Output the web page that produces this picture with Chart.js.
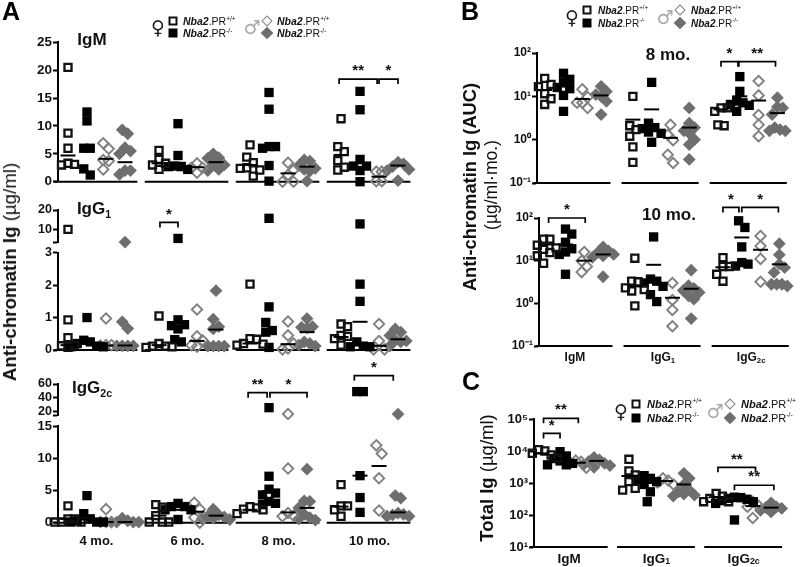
<!DOCTYPE html>
<html>
<head>
<meta charset="utf-8">
<script src="https://cdn.jsdelivr.net/npm/chart.js@4"></script>
<style>
    html, body { margin: 0; background: #fff; }
    #page { position: relative; width: 800px; height: 567px; overflow: hidden; font-family: "Liberation Sans", sans-serif; color: #111; }
    canvas { position: absolute; left: 0; top: 0; }
    .txt { position: absolute; white-space: nowrap; transform: translate(-50%, -50%); }
    .b { font-weight: bold; }
    .left { transform: translate(0, -50%); }
    sup, sub { font-size: 62%; line-height: 0; }
    .sq, .di { position: absolute; box-sizing: border-box; transform: translate(-50%, -50%); }
    .di { transform: translate(-50%, -50%) rotate(45deg); }
</style>
</head>
<body>
<div id="page"></div>
<script>
// each series: one list per group, means: group by group, series by series
const monthLabels = ['4 mo.', '6 mo.', '8 mo.', '10 mo.'];
const isotypeLabels = [['IgM', ''], ['IgG', '1'], ['IgG', '2c']];

// panel A, IgM
const igmFemaleWt = [[20.5, 8.7, 6, 3.3, 3, 3.1], [5.6, 4, 3.3, 3, 2.2], [6.6, 4.4, 3.4, 2.5, 2.4, 2.1, 1], [11.3, 6.3, 5.4, 3.8, 2.6, 2.1]];
const igmFemaleKo = [[12.5, 10.9, 6, 6, 2.3, 1.2], [10.4, 4.7, 2.8, 2.7, 2.7, 2.2], [16, 13, 6.3, 6.3, 6, 2.9, 0.1], [16.2, 12.9, 4, 2.8, 2.8, 2, 0]];
const igmMaleWt = [[6.9, 5.9, 3.9, 3.7, 2.2], [3.3, 2.5, 2.5, 1.6], [3.4, 2.1, 1.2, 0, 0], [1.8, 1.8, 0.1, 0.1]];
const igmMaleKo = [[9.3, 8.6, 6.1, 5.5, 5, 2, 2, 1.3], [5, 4.3, 4.2, 3.2, 3, 2.2, 2], [3.9, 3.7, 2.9, 2.4, 2.2, 1.9, 0.1], [3.5, 3.2, 2.7, 2.2, 2, 0.2]];
const igmMeans = [[4.7, 6, 4.1, 3.5], [3.3, 3.4, 2.6, 3.5], [3, 6.2, 1.5, 2.7], [4.8, 3.3, 0.9, 2.9]];
const igmTicks = [0, 5, 10, 15, 20, 25];

// panel A, IgG1
const igg1FemaleWt = [[10, 0.93, 0.38, 0.15, 0.08, 0.13], [1.05, 0.2, 0.12, 0.12, 0.1, 0.08], [2.03, 0.35, 0.33, 0.2, 0.18, 0.15], [0.8, 0.72, 0.45, 0.42, 0.35, 0.15]];
const igg1FemaleKo = [[1, 0.3, 0.25, 0.2, 0.12, 0.1, 0.1], [5.3, 0.93, 0.78, 0.75, 0.65, 0.32, 0.25], [15.7, 1.33, 0.85, 0.6, 0.55, 0.08], [12.8, 2.03, 1.5, 0.25, 0.12, 0.1, 0.1]];
const igg1MaleWt = [[0.97, 0.15, 0.15, 0.14], [1.25, 0.42, 0.3, 0.15, 0.1], [0.88, 0.45, 0.2, 0.05, 0.02], [0.8, 0.28, 0.02, 0.02]];
const igg1MaleKo = [[3.4, 0.87, 0.66, 0.13, 0.13, 0.13, 0.13], [1.83, 0.95, 0.72, 0.65, 0.12, 0.12, 0.12, 0.12], [0.97, 0.72, 0.7, 0.68, 0.25, 0.2, 0.15, 0.12], [0.65, 0.55, 0.45, 0.3, 0.28, 0.25, 0.12]];
const igg1Means = [[0.15, 0.2, 0.14, 0.14], [0.15, 0.7, 0.28, 0.63], [0.2, 0.55, 0.18, 0.55], [0.4, 0.87, 0.13, 0.33]];
const igg1Ticks = [0, 1, 2, 3];
const igg1TopTicks = [3.3, 10, 20];
const igg1TopLabels = ['', '10', '20'];

// panel A, IgG2c
const igg2FemaleWt = [[2.6, 0.6, 0.6, 0.1, 0.1, 0.1], [2.8, 2.4, 1.1, 0.1, 0.1, 0.1], [2.5, 2.3, 2.1, 2, 1.4], [5.9, 2.6, 2.6, 2, 1]];
const igg2FemaleKo = [[4.2, 1.4, 0.6, 0.3, 0.1, 0.1, 0.1], [3, 2.5, 2.5, 2, 2, 0.5], [25.8, 7.2, 5.2, 4.6, 4.3, 3.3, 3, 2.8], [49, 49, 7.3, 3.9, 1.6]];
const igg2MaleWt = [[2.1, 0.1, 0.1, 0.1], [3.1, 2.1, 0.8, 0], [16.6, 8.4, 1.5, 1.1, 1], [12, 10.7, 6.9, 1.9]];
const igg2MaleKo = [[0.7, 0.3, 0.1, 0.1, 0.1, 0.1], [2.1, 1.2, 1, 0.9, 0.7, 0.6, 0.5], [8.3, 3.4, 3.3, 2.3, 1.3, 0.8, 0.6, 0.4], [16.6, 4.2, 3.8, 1.5, 1.3, 1.2, 1, 1]];
const igg2Means = [[0.6, 0.5, 0.1, 0.1], [1.1, 2, 1.7, 1.1], [2, 4.9, 1.6, 2.3], [2.5, 7.3, 8.8, 1.6]];
const igg2Ticks = [0, 5, 10, 15];
const igg2TopTicks = [15.2, 20, 40, 60];
const igg2TopLabels = ['', '20', '40', '60'];

// panel B, 8 mo.
const auc8FemaleWt = [[18.9, 11.5, 16.7, 26, 8.8, 6.5], [10, 1.7, 2.1, 1.2, 0.68, 0.3], [5.4, 5.4, 4.5, 2.2, 2.1]];
const auc8FemaleKo = [[34, 16, 15, 20.6, 24.7, 10.5, 4.5], [21, 2.4, 1.9, 1.8, 1.5, 1.4, 0.87], [28.5, 13, 7.8, 7.1, 6.5, 6.2, 4.5]];
const auc8MaleWt = [[14.5, 9.6, 7.1, 7.1, 5.4], [2.2, 1.3, 0.97, 0.45, 0.29], [22.6, 10.5, 3.7, 2.2, 1.2]];
const auc8MaleKo = [[17, 13, 11, 10, 7.7, 3.8], [5.4, 2.4, 1.9, 1.6, 1.4, 1, 0.77, 0.35], [9.3, 5.7, 5.4, 3.8, 1.9, 1.7, 1.6, 1.6]];
const auc8Means = [[14, 17, 8.7, 10.5], [2.9, 5, 1.1, 1.9], [5, 10, 8, 4.1]];

// panel B, 10 mo.
const auc10FemaleWt = [[32, 32, 23, 20, 18.5, 15.5, 13, 8.7], [11.4, 3.3, 3.2, 2.3, 2.1, 1.95, 0.87], [11.8, 7.3, 7.3, 4.8, 3.3]];
const auc10FemaleKo = [[55, 42, 27, 19, 16, 14, 4.8], [36, 3.7, 3.3, 3, 2.5, 1.6, 1.1], [86, 60, 21, 9, 8.3, 7.5]];
const auc10MaleWt = [[16, 9.9, 7.3, 5.4], [3, 1.2, 0.7, 0.29], [38, 22, 11, 3.2]];
const auc10MaleKo = [[21, 17, 15.5, 14, 13, 12, 4.2], [6, 2.6, 2.25, 2, 1.8, 1.5, 1.25, 0.44], [25, 13.7, 8.3, 6.9, 5.3, 2.8, 2.8, 2.55, 2.8]];
const auc10Means = [[24, 24, 10, 14], [2.5, 8, 1.35, 2.2], [7, 35, 18, 8.2]];
const aucTicks = [0.1, 1, 10, 100];
const aucTickLabels = ['10⁻¹', '10⁰', '10¹', '10²'];

// panel C
const totalFemaleWt = [[11000, 10000, 8500, 7500, 7000, 6000], [5500, 2400, 1800, 1100, 680, 600], [470, 390, 330, 260, 260]];
const totalFemaleKo = [[9500, 7000, 5800, 4900, 4100, 3700, 3700], [1700, 1400, 1300, 1100, 900, 530, 260], [360, 350, 330, 310, 280, 260, 230, 70]];
const totalMaleWt = [[5000, 4600, 4300, 3000], [1400, 1200, 1040, 900], [260, 200, 180, 81]];
const totalMaleKo = [[6300, 5300, 4700, 4100, 3700, 3500, 3100], [2000, 1400, 900, 600, 450, 390, 420, 530], [240, 180, 170, 160, 140, 125]];
const totalMeans = [[8400, 5500, 4300, 4900], [1650, 1000, 1150, 900], [360, 270, 190, 170]];
const totalTicks = [10, 100, 1000, 10000, 100000];
const totalTickLabels = ['10¹', '10²', '10³', '10⁴', '10⁵'];

// significance brackets: group, from series, to series, value, stars
const igmBrackets = [[3, -0.1, 1.9, 18.4, '**'], [3, 2, 3, 18.4, '*']];
const igg1Brackets = [[1, 0.05, 1, 13.6, '*']];
const igg2Brackets = [[2, -0.1, 0.9, 47.5, '**'], [2, 1.05, 3, 47.5, '*'], [3, 0.7, 2.75, 72, '*']];
const auc8Brackets = [[2, 0, 0.9, 63, '*'], [2, 0.95, 2.9, 63, '**']];
const auc10Brackets = [[0, 0.1, 2.05, 100, '*'], [2, 0, 0.85, 177, '*'], [2, 1, 2.95, 177, '*']];
const totalBrackets = [[0, 0.1, 2, 105000, '**'], [0, 0.1, 1, 35500, '*'], [2, 0.1, 2.15, 3080, '**'], [2, 1, 3.15, 850, '**']];

const page = document.getElementById('page');

const seriesStyles = [
    { pointStyle: 'rect', pointRadius: 5, pointBorderWidth: 2.3, borderColor: '#111', backgroundColor: 'rgba(255,255,255,0)' },
    { pointStyle: 'rect', pointRadius: 6.6, pointBorderWidth: 0, borderColor: '#000', backgroundColor: '#000' },
    { pointStyle: 'rectRot', pointRadius: 5.2, pointBorderWidth: 1.9, borderColor: '#808080', backgroundColor: 'rgba(255,255,255,0)' },
    { pointStyle: 'rectRot', pointRadius: 6.4, pointBorderWidth: 0, borderColor: '#6e6e6e', backgroundColor: '#6e6e6e' },
];
const dodgeSteps = [6.5, 6.5, 5.5, 5.5];

// spread tied points sideways, like the prism scatter plots do
function dodge(values, toPx, stepPx) {
    const placed = [];
    [...values].sort((a, b) => b - a).forEach(v => {
        const py = toPx(v);
        let k = 0, off = 0;
        while (placed.some(p => Math.abs(p.off - off) < stepPx * 0.9 && Math.abs(p.py - py) < 8.8)) {
            k++;
            off = (k % 2 ? 1 : -1) * Math.ceil(k / 2) * stepPx;
        }
        placed.push({ v, py, off });
    });
    // centre each run of touching points on the series
    let start = 0;
    for (let i = 1; i <= placed.length; i++) {
        if (i === placed.length || placed[i].py - placed[i - 1].py >= 8.8) {
            const run = placed.slice(start, i);
            const mid = (Math.max(...run.map(p => p.off)) + Math.min(...run.map(p => p.off))) / 2;
            run.forEach(p => { p.off -= mid; });
            start = i;
        }
    }
    return placed;
}

const plotExtras = {
    id: 'plotExtras',
    beforeDatasetsDraw(chart, args, o) {
        if (!o.baseline) return;
        const ctx = chart.ctx, xs = chart.scales.x, y = chart.chartArea.bottom;
        ctx.save();
        ctx.strokeStyle = '#000';
        ctx.lineWidth = 2;
        for (let g = 0; g < o.groups; g++) {
            ctx.beginPath();
            ctx.moveTo(xs.getPixelForValue(g * o.gap + o.ext[0]), y);
            ctx.lineTo(xs.getPixelForValue(g * o.gap + o.ext[1]), y);
            ctx.stroke();
        }
        ctx.restore();
    },
    afterDraw(chart, args, o) {
        const ctx = chart.ctx, xs = chart.scales.x, ys = chart.scales.y;
        ctx.save();
        ctx.strokeStyle = '#000';
        ctx.fillStyle = '#111';
        ctx.lineWidth = 1.7;
        (o.brackets || []).forEach(([g, a, b, val, stars]) => {
            const x0 = xs.getPixelForValue(g * o.gap + a), x1 = xs.getPixelForValue(g * o.gap + b), y = ys.getPixelForValue(val);
            ctx.beginPath();
            ctx.moveTo(x0, y + 5);
            ctx.lineTo(x0, y);
            ctx.lineTo(x1, y);
            ctx.lineTo(x1, y + 5);
            ctx.stroke();
            ctx.font = 'bold 15px "Liberation Sans"';
            ctx.textAlign = 'center';
            ctx.textBaseline = 'middle';
            ctx.fillText(stars, (x0 + x1) / 2, y - 8);
        });
        (o.labels || []).forEach((lab, g) => {
            const [main, sub] = Array.isArray(lab) ? lab : [lab, ''];
            const cx = xs.getPixelForValue(g * o.gap + 1.5), y = chart.chartArea.bottom + o.labelY;
            ctx.font = `bold ${o.labelSize}px "Liberation Sans"`;
            const w = ctx.measureText(main).width;
            ctx.font = `bold ${o.labelSize * 0.65}px "Liberation Sans"`;
            const ws = sub ? ctx.measureText(sub).width : 0;
            ctx.textAlign = 'left';
            ctx.textBaseline = 'middle';
            ctx.font = `bold ${o.labelSize}px "Liberation Sans"`;
            ctx.fillText(main, cx - (w + ws) / 2, y);
            ctx.font = `bold ${o.labelSize * 0.65}px "Liberation Sans"`;
            ctx.fillText(sub, cx - (w + ws) / 2 + w, y + 3);
        });
        ctx.restore();
    },
};

function drawPlot(cfg) {
    const { box, type, yMin, yMax, ticks, tickLabels, series, means, x0, pitch, gap } = cfg;
    const canvas = document.createElement('canvas');
    canvas.width = 800;
    canvas.height = 567;
    page.appendChild(canvas);

    const log = type === 'logarithmic';
    const f = v => log ? Math.log10(v) : v;
    const toPx = v => box.b - (f(v) - f(yMin)) / (f(yMax) - f(yMin)) * (box.b - box.t);
    const inRange = v => v > (cfg.above ?? -Infinity) && v <= (cfg.upTo ?? Infinity);

    const meanPoints = [];
    means.forEach((row, g) => row.forEach((v, s) => {
        if (inRange(v)) meanPoints.push({ x: g * gap + s, y: v });
    }));
    const datasets = [{
        data: meanPoints,
        pointStyle: 'line', pointRadius: 7.5, pointBorderWidth: 2, borderColor: '#000', clip: false,
    }];
    series.forEach((groups, s) => {
        datasets.push({
            data: groups.flatMap((vals, g) => dodge(vals.filter(inRange), toPx, dodgeSteps[s]).map(p => ({ x: g * gap + s + p.off / pitch, y: p.v }))),
            clip: false,
            ...seriesStyles[s],
        });
    });

    new Chart(canvas, {
        type: 'scatter',
        data: { datasets },
        plugins: [plotExtras],
        options: {
            responsive: false,
            animation: false,
            events: [],
            layout: { padding: { left: 0, top: box.t, right: 800 - box.r, bottom: 567 - box.b } },
            plugins: {
                legend: { display: false },
                tooltip: { enabled: false },
                plotExtras: {
                    baseline: !cfg.top,
                    groups: series[0].length,
                    gap,
                    ext: cfg.ext,
                    brackets: cfg.brackets,
                    labels: cfg.labels,
                    labelY: cfg.labelY,
                    labelSize: cfg.labelSize,
                },
            },
            scales: {
                x: { type: 'linear', display: false, min: (box.l - x0) / pitch, max: (box.r - x0) / pitch },
                y: {
                    type,
                    min: yMin,
                    max: yMax,
                    afterFit: s => { s.width = box.l; },
                    afterBuildTicks: s => { s.ticks = ticks.map(value => ({ value })); },
                    border: { display: true, color: '#000', width: 2 },
                    grid: { display: true, drawOnChartArea: false, drawTicks: true, tickLength: 5, tickWidth: 2, tickColor: '#000' },
                    ticks: {
                        autoSkip: false,
                        maxRotation: 0,
                        padding: 1,
                        color: '#111',
                        font: { family: 'Liberation Sans', weight: 'bold', size: cfg.tickSize },
                        callback: (v, i) => tickLabels ? tickLabels[i] : String(v),
                    },
                },
            },
        },
    });
}

const panelA = { x0: 68, pitch: 19, gap: 4.79, ext: [-0.75, 3.65], tickSize: 13.5 };
drawPlot({ ...panelA, box: { l: 58, r: 420, t: 42.3, b: 181.7 }, type: 'linear', yMin: 0, yMax: 25, ticks: igmTicks,
    series: [igmFemaleWt, igmFemaleKo, igmMaleWt, igmMaleKo], means: igmMeans, brackets: igmBrackets });
drawPlot({ ...panelA, box: { l: 58, r: 420, t: 210, b: 242.3 }, type: 'linear', yMin: 3.3, yMax: 20, ticks: igg1TopTicks, tickLabels: igg1TopLabels, top: true, above: 3,
    series: [igg1FemaleWt, igg1FemaleKo, igg1MaleWt, igg1MaleKo], means: igg1Means, brackets: igg1Brackets, tickSize: 12.5 });
drawPlot({ ...panelA, box: { l: 58, r: 420, t: 252.7, b: 350 }, type: 'linear', yMin: 0, yMax: 3, ticks: igg1Ticks, upTo: 3,
    series: [igg1FemaleWt, igg1FemaleKo, igg1MaleWt, igg1MaleKo], means: igg1Means, tickSize: 12.5 });
drawPlot({ ...panelA, box: { l: 58, r: 420, t: 384, b: 415 }, type: 'linear', yMin: 15.2, yMax: 60, ticks: igg2TopTicks, tickLabels: igg2TopLabels, top: true, above: 15,
    series: [igg2FemaleWt, igg2FemaleKo, igg2MaleWt, igg2MaleKo], means: igg2Means, brackets: igg2Brackets, tickSize: 12.5 });
drawPlot({ ...panelA, box: { l: 58, r: 420, t: 426, b: 522.7 }, type: 'linear', yMin: 0, yMax: 15, ticks: igg2Ticks, upTo: 15, tickSize: 13,
    series: [igg2FemaleWt, igg2FemaleKo, igg2MaleWt, igg2MaleKo], means: igg2Means, labels: monthLabels, labelY: 19, labelSize: 13 });

const panelB = { pitch: 19.5, gap: 4.69, ext: [-0.6, 3.5], type: 'logarithmic', yMin: 0.1, yMax: 100, ticks: aucTicks, tickLabels: aucTickLabels, tickSize: 12 };
drawPlot({ ...panelB, x0: 545, box: { l: 537, r: 800, t: 53, b: 183 },
    series: [auc8FemaleWt, auc8FemaleKo, auc8MaleWt, auc8MaleKo], means: auc8Means, brackets: auc8Brackets });
drawPlot({ ...panelB, x0: 547, box: { l: 539, r: 800, t: 218, b: 346 },
    series: [auc10FemaleWt, auc10FemaleKo, auc10MaleWt, auc10MaleKo], means: auc10Means, brackets: auc10Brackets,
    labels: isotypeLabels, labelY: 12, labelSize: 12 });

drawPlot({ x0: 542, pitch: 19, gap: 4.76, ext: [-0.65, 3.6], box: { l: 534, r: 800, t: 419, b: 547 }, type: 'logarithmic',
    yMin: 10, yMax: 100000, ticks: totalTicks, tickLabels: totalTickLabels, tickSize: 13,
    series: [totalFemaleWt, totalFemaleKo, totalMaleWt, totalMaleKo], means: totalMeans, brackets: totalBrackets,
    labels: isotypeLabels, labelY: 12, labelSize: 13.5 });

function text(html, x, y, css, cls) {
    const d = document.createElement('div');
    d.className = 'txt ' + (cls || '');
    d.innerHTML = html;
    d.style.left = x + 'px';
    d.style.top = y + 'px';
    d.style.cssText += css || '';
    page.appendChild(d);
    return d;
}

function shape(kind, x, y, css) {
    const d = document.createElement('div');
    d.className = kind;
    d.style.cssText = `left:${x}px;top:${y}px;${css}`;
    page.appendChild(d);
}

function legend(femaleX, maleX, yTop, yBot, size, markGap, textGap) {
    const wt = `<i class="b">Nba2</i>.PR<sup>+/+</sup>`, ko = `<i class="b">Nba2</i>.PR<sup>-/-</sup>`;
    text('♀', femaleX, (yTop + yBot) / 2, 'font:bold 19px "DejaVu Sans";color:#222');
    text('♂', maleX, (yTop + yBot) / 2, 'font:bold 19px "DejaVu Sans";color:#aaa');
    shape('sq', femaleX + markGap, yTop, 'width:9px;height:9px;border:2px solid #111');
    shape('sq', femaleX + markGap, yBot, 'width:9px;height:9px;background:#000');
    shape('di', maleX + markGap, yTop, 'width:8px;height:8px;border:1.6px solid #808080');
    shape('di', maleX + markGap, yBot, 'width:9px;height:9px;background:#6e6e6e');
    [femaleX, maleX].forEach(x => {
        text(wt, x + markGap + textGap, yTop, `font-size:${size}px`, 'left');
        text(ko, x + markGap + textGap, yBot, `font-size:${size}px`, 'left');
    });
}

legend(158, 252, 21, 33, 10.5, 15, 10);
legend(572, 665, 10, 23, 10, 15, 11);
legend(621, 715, 404, 418, 11, 15, 11);

const letter = 'font-size:25px;font-weight:bold;color:#000';
text('A', 11, 11, letter);
text('B', 470, 11, letter);
text('C', 471, 381, letter);

const plotTitle = 'font-size:17px;font-weight:bold';
text('IgM', 92, 40, plotTitle);
text('IgG<sub>1</sub>', 94, 209, plotTitle);
text('IgG<sub>2c</sub>', 92, 388, plotTitle);
text('8 mo.', 668, 55, plotTitle);
text('10 mo.', 669, 215, plotTitle);

const rotated = 'transform:translate(-50%,-50%) rotate(-90deg);';
text('<span class="b">Anti-chromatin Ig</span> (µg/ml)', 10, 272, rotated + 'font-size:18.7px');
text('<span class="b">Anti-chromatin Ig (AUC)</span>', 470, 187, rotated + 'font-size:18.3px');
text('(µg/ml·mo.)', 491, 185, rotated + 'font-size:17.5px');
text('<span class="b">Total Ig</span> (µg/ml)', 487, 478, rotated + 'font-size:18.5px');
</script>
</body>
</html>
